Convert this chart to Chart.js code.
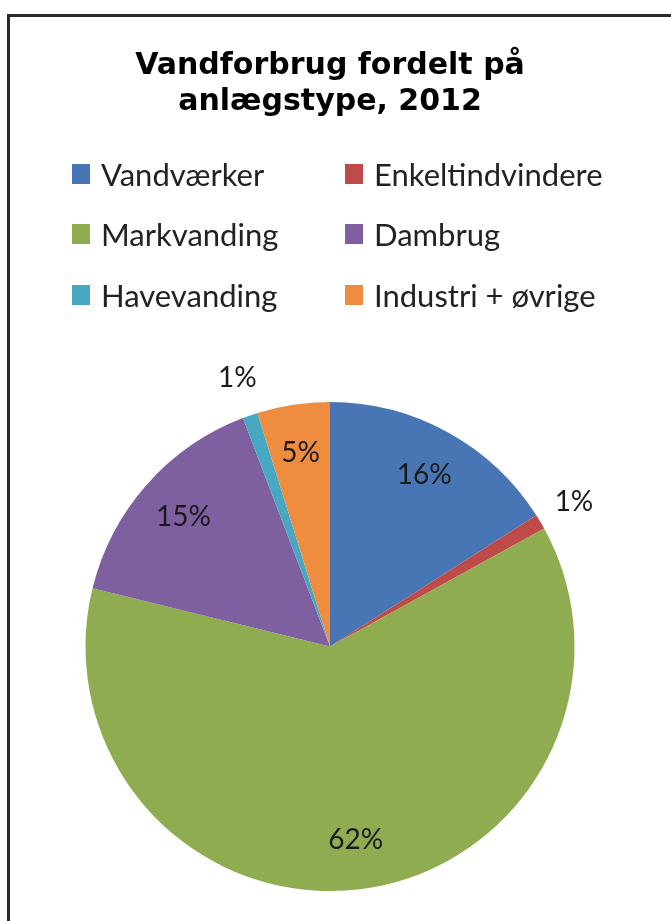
<!DOCTYPE html>
<html>
<head>
<meta charset="utf-8">
<script src="https://cdn.jsdelivr.net/npm/chart.js@4.4.1/dist/chart.umd.min.js"></script>
<style>
  html, body { margin: 0; padding: 0; background: #fff; width: 671px; height: 921px; overflow: hidden; }
  #wrap { position: relative; width: 671px; height: 921px; }
  #frame { position: absolute; left: 7px; top: 14px; width: 700px; height: 1000px;
           border-top: 3px solid #2a2a2a; border-left: 3px solid #2a2a2a; box-sizing: border-box; }
  canvas { position: absolute; left: 0; top: 0; }
  #legend { position: absolute; left: 0; top: 0; width: 671px; height: 0; }
  .item { position: absolute; display: flex; align-items: center; height: 30px;
          font-family: Lato, "Open Sans", sans-serif; font-size: 31px; line-height: 30px; color: #222; white-space: nowrap; }
  .sw { width: 18px; height: 20px; margin-right: 11px; flex: none; }
</style>
</head>
<body>
<div id="wrap">
  <div id="frame"></div>
  <canvas id="c" width="671" height="921"></canvas>
  <div id="legend"></div>
</div>
<script>
const titleLines = ['Vandforbrug fordelt på', 'anlægstype, 2012'];
const categories = ['Vandværker', 'Enkeltindvindere', 'Markvanding', 'Dambrug', 'Havevanding', 'Industri + øvrige'];
const shares = [16.0, 1.0, 61.9, 15.4, 1.0, 4.8];
const colors = ['#4876B4', '#BE4B48', '#8FAD50', '#7E60A0', '#48A8C2', '#EE8D3F'];

// HTML legend in two columns (layout only)
const legendCols = [72, 345];
const legendRowTops = [159, 219, 280];
const legendEl = document.getElementById('legend');
categories.forEach((name, i) => {
  const d = document.createElement('div');
  d.className = 'item';
  d.style.left = legendCols[i % 2] + 'px';
  d.style.top = legendRowTops[Math.floor(i / 2)] + 'px';
  const sw = document.createElement('span');
  sw.className = 'sw';
  sw.style.background = colors[i];
  const t = document.createElement('span');
  t.textContent = name;
  d.appendChild(sw);
  d.appendChild(t);
  legendEl.appendChild(d);
});

const pctLabelPlugin = {
  id: 'pctLabels',
  afterDatasetsDraw(chart) {
    const ctx = chart.ctx;
    const meta = chart.getDatasetMeta(0);
    const data = chart.data.datasets[0].data;
    const total = data.reduce((a, b) => a + b, 0);
    ctx.save();
    ctx.font = '28px Lato, "Open Sans", sans-serif';
    ctx.fillStyle = '#1a1a1a';
    ctx.textAlign = 'center';
    ctx.textBaseline = 'middle';
    meta.data.forEach((arc, i) => {
      const p = arc.getProps(['x', 'y', 'startAngle', 'endAngle', 'outerRadius'], true);
      const pct = data[i] / total * 100;
      const mid = (p.startAngle + p.endAngle) / 2;
      const rf = pct < 3 ? 1.16 : 0.8;
      const x = p.x + Math.cos(mid) * p.outerRadius * rf;
      const y = p.y + Math.sin(mid) * p.outerRadius * rf;
      ctx.fillText(Math.round(pct) + '%', x, y);
    });
    ctx.restore();
  }
};

new Chart(document.getElementById('c'), {
  type: 'pie',
  data: {
    labels: categories,
    datasets: [{
      data: shares,
      backgroundColor: colors,
      borderWidth: 0
    }]
  },
  options: {
    responsive: false,
    animation: false,
    layout: { padding: { left: 85.5, right: 96.5, top: 0, bottom: 30 } },
    plugins: {
      legend: { display: false },
      tooltip: { enabled: false },
      title: {
        display: true,
        text: titleLines,
        color: '#000',
        font: { family: '"DejaVu Sans", Verdana, sans-serif', size: 30, weight: 'bold', lineHeight: 1.2 },
        padding: { top: 48, bottom: 282 }
      }
    }
  },
  plugins: [pctLabelPlugin]
});
</script>
</body>
</html>
